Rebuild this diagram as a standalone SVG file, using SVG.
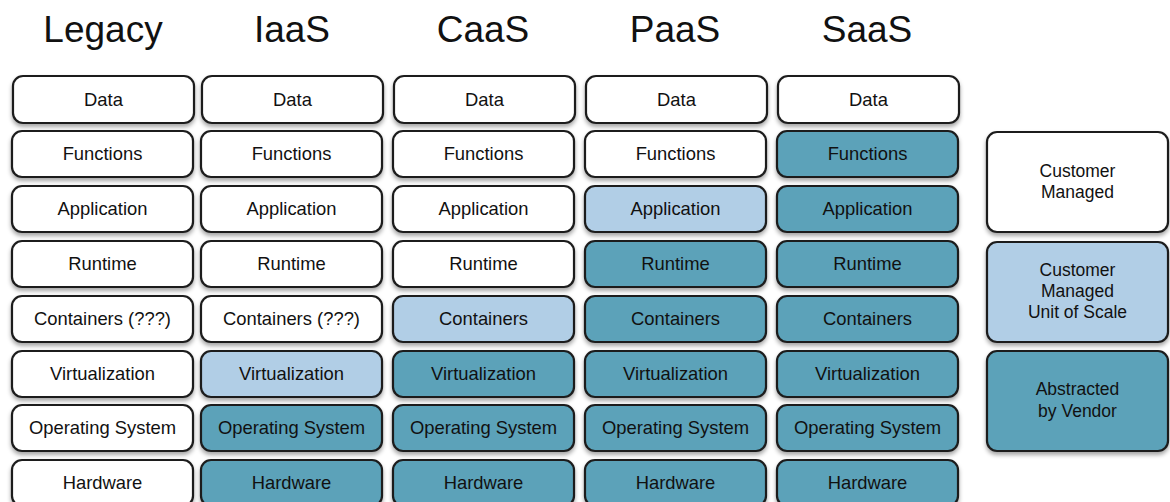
<svg xmlns="http://www.w3.org/2000/svg" width="1170" height="502" viewBox="0 0 1170 502">
<defs>
<filter id="sh" x="-10%" y="-20%" width="120%" height="150%">
<feDropShadow dx="0" dy="3" stdDeviation="2" flood-color="#000" flood-opacity="0.35"/>
</filter>
</defs>
<style>
rect{stroke:#1e1e1e;stroke-width:2.2;filter:url(#sh)}
.w{fill:#ffffff}
.l{fill:#b1cee6}
.t{fill:#5ba2b9}
text{font-family:"Liberation Sans",Arial,sans-serif;font-size:18.4px;fill:#111;text-anchor:middle}
.h{font-size:37px}
.g{font-size:17.5px}
</style>
<rect width="1170" height="502" fill="#fff" style="stroke:none;filter:none"/>
<g id="titles">
<text class="h" x="103" y="42">Legacy</text>
<text class="h" x="292" y="42">IaaS</text>
<text class="h" x="483" y="42">CaaS</text>
<text class="h" x="675" y="42">PaaS</text>
<text class="h" x="867" y="42">SaaS</text>
</g>
<!-- Legacy -->
<g id="legacy-data"><rect class="w" x="13" y="76" width="181" height="47" rx="10"/><text x="103.5" y="105.5">Data</text></g>
<g id="legacy-functions"><rect class="w" x="12" y="131" width="181" height="46" rx="10"/><text x="102.5" y="160">Functions</text></g>
<g id="legacy-application"><rect class="w" x="12" y="186" width="181" height="46" rx="10"/><text x="102.5" y="215">Application</text></g>
<g id="legacy-runtime"><rect class="w" x="12" y="241" width="181" height="46" rx="10"/><text x="102.5" y="270">Runtime</text></g>
<g id="legacy-containers"><rect class="w" x="12" y="296" width="181" height="46" rx="10"/><text x="102.5" y="325">Containers (???)</text></g>
<g id="legacy-virtualization"><rect class="w" x="12" y="351" width="181" height="46" rx="10"/><text x="102.5" y="380">Virtualization</text></g>
<g id="legacy-os"><rect class="w" x="12" y="405" width="181" height="46" rx="10"/><text x="102.5" y="434">Operating System</text></g>
<g id="legacy-hardware"><rect class="w" x="12" y="460" width="181" height="46" rx="10"/><text x="102.5" y="489">Hardware</text></g>
<!-- IaaS -->
<g id="iaas-data"><rect class="w" x="202" y="76" width="181" height="47" rx="10"/><text x="292.5" y="105.5">Data</text></g>
<g id="iaas-functions"><rect class="w" x="201" y="131" width="181" height="46" rx="10"/><text x="291.5" y="160">Functions</text></g>
<g id="iaas-application"><rect class="w" x="201" y="186" width="181" height="46" rx="10"/><text x="291.5" y="215">Application</text></g>
<g id="iaas-runtime"><rect class="w" x="201" y="241" width="181" height="46" rx="10"/><text x="291.5" y="270">Runtime</text></g>
<g id="iaas-containers"><rect class="w" x="201" y="296" width="181" height="46" rx="10"/><text x="291.5" y="325">Containers (???)</text></g>
<g id="iaas-virtualization"><rect class="l" x="201" y="351" width="181" height="46" rx="10"/><text x="291.5" y="380">Virtualization</text></g>
<g id="iaas-os"><rect class="t" x="201" y="405" width="181" height="46" rx="10"/><text x="291.5" y="434">Operating System</text></g>
<g id="iaas-hardware"><rect class="t" x="201" y="460" width="181" height="46" rx="10"/><text x="291.5" y="489">Hardware</text></g>
<!-- CaaS -->
<g id="caas-data"><rect class="w" x="394" y="76" width="181" height="47" rx="10"/><text x="484.5" y="105.5">Data</text></g>
<g id="caas-functions"><rect class="w" x="393" y="131" width="181" height="46" rx="10"/><text x="483.5" y="160">Functions</text></g>
<g id="caas-application"><rect class="w" x="393" y="186" width="181" height="46" rx="10"/><text x="483.5" y="215">Application</text></g>
<g id="caas-runtime"><rect class="w" x="393" y="241" width="181" height="46" rx="10"/><text x="483.5" y="270">Runtime</text></g>
<g id="caas-containers"><rect class="l" x="393" y="296" width="181" height="46" rx="10"/><text x="483.5" y="325">Containers</text></g>
<g id="caas-virtualization"><rect class="t" x="393" y="351" width="181" height="46" rx="10"/><text x="483.5" y="380">Virtualization</text></g>
<g id="caas-os"><rect class="t" x="393" y="405" width="181" height="46" rx="10"/><text x="483.5" y="434">Operating System</text></g>
<g id="caas-hardware"><rect class="t" x="393" y="460" width="181" height="46" rx="10"/><text x="483.5" y="489">Hardware</text></g>
<!-- PaaS -->
<g id="paas-data"><rect class="w" x="586" y="76" width="181" height="47" rx="10"/><text x="676.5" y="105.5">Data</text></g>
<g id="paas-functions"><rect class="w" x="585" y="131" width="181" height="46" rx="10"/><text x="675.5" y="160">Functions</text></g>
<g id="paas-application"><rect class="l" x="585" y="186" width="181" height="46" rx="10"/><text x="675.5" y="215">Application</text></g>
<g id="paas-runtime"><rect class="t" x="585" y="241" width="181" height="46" rx="10"/><text x="675.5" y="270">Runtime</text></g>
<g id="paas-containers"><rect class="t" x="585" y="296" width="181" height="46" rx="10"/><text x="675.5" y="325">Containers</text></g>
<g id="paas-virtualization"><rect class="t" x="585" y="351" width="181" height="46" rx="10"/><text x="675.5" y="380">Virtualization</text></g>
<g id="paas-os"><rect class="t" x="585" y="405" width="181" height="46" rx="10"/><text x="675.5" y="434">Operating System</text></g>
<g id="paas-hardware"><rect class="t" x="585" y="460" width="181" height="46" rx="10"/><text x="675.5" y="489">Hardware</text></g>
<!-- SaaS -->
<g id="saas-data"><rect class="w" x="778" y="76" width="181" height="47" rx="10"/><text x="868.5" y="105.5">Data</text></g>
<g id="saas-functions"><rect class="t" x="777" y="131" width="181" height="46" rx="10"/><text x="867.5" y="160">Functions</text></g>
<g id="saas-application"><rect class="t" x="777" y="186" width="181" height="46" rx="10"/><text x="867.5" y="215">Application</text></g>
<g id="saas-runtime"><rect class="t" x="777" y="241" width="181" height="46" rx="10"/><text x="867.5" y="270">Runtime</text></g>
<g id="saas-containers"><rect class="t" x="777" y="296" width="181" height="46" rx="10"/><text x="867.5" y="325">Containers</text></g>
<g id="saas-virtualization"><rect class="t" x="777" y="351" width="181" height="46" rx="10"/><text x="867.5" y="380">Virtualization</text></g>
<g id="saas-os"><rect class="t" x="777" y="405" width="181" height="46" rx="10"/><text x="867.5" y="434">Operating System</text></g>
<g id="saas-hardware"><rect class="t" x="777" y="460" width="181" height="46" rx="10"/><text x="867.5" y="489">Hardware</text></g>
<!-- Legend -->
<g id="legend-customer-managed"><rect class="w" x="987" y="132" width="181" height="100" rx="10"/><text class="g" x="1077.5" y="177">Customer</text><text class="g" x="1077.5" y="198">Managed</text></g>
<g id="legend-unit-of-scale"><rect class="l" x="987" y="242" width="181" height="100" rx="10"/><text class="g" x="1077.5" y="276">Customer</text><text class="g" x="1077.5" y="297">Managed</text><text class="g" x="1077.5" y="318">Unit of Scale</text></g>
<g id="legend-vendor"><rect class="t" x="987" y="351" width="181" height="100" rx="10"/><text class="g" x="1077.5" y="395">Abstracted</text><text class="g" x="1077.5" y="417">by Vendor</text></g>
<g id="connectors"/>
</svg>
